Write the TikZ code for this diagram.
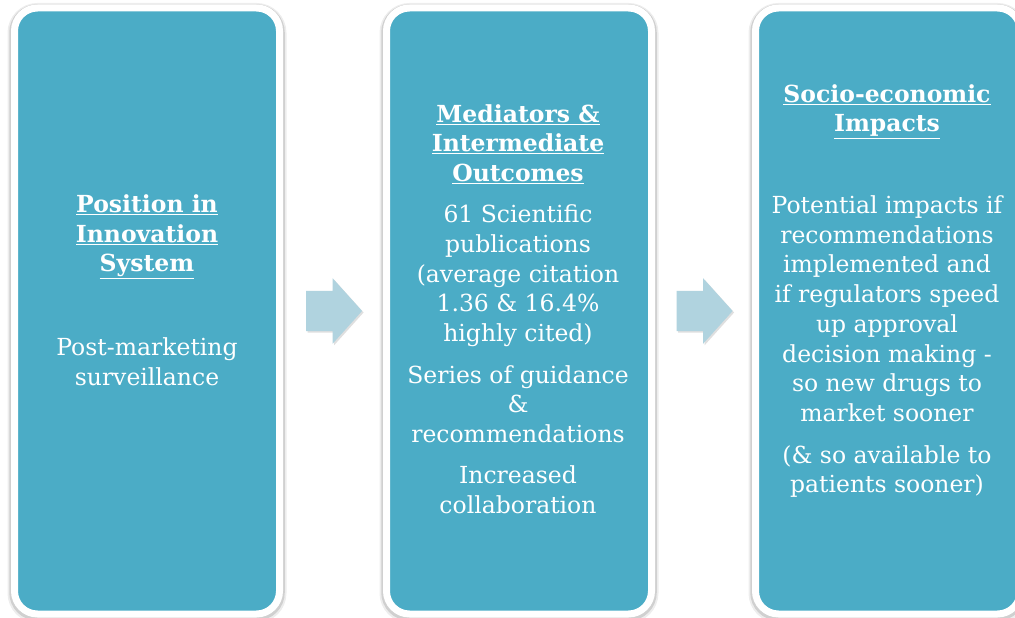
\documentclass[tikz,border=0pt]{standalone}
\usepackage{fontspec}
\setmainfont{DejaVu Serif}
\usepackage{xcolor}
\usepackage{tikz}
\usetikzlibrary{calc,positioning,shapes.arrows,shadows}
\definecolor{stagefill}{RGB}{75,172,198}
\definecolor{flowfill}{RGB}{176,211,223}
\newcommand{\hd}[1]{\textbf{\underline{#1}}}

\begin{document}
\begin{tikzpicture}[x=1pt,y=-1pt,
      stage/.style={rectangle,rounded corners=23pt,draw=white,line width=7pt,fill=stagefill,
        minimum width=265pt,minimum height=606pt,
        preaction={draw=black,draw opacity=.07,line width=14pt,transform canvas={yshift=-2pt}},
        preaction={draw=black,draw opacity=.12,line width=10.5pt,transform canvas={yshift=-1.5pt}}},
      flow/.style={single arrow,fill=flowfill,draw=none,inner xsep=0pt,inner ysep=20pt,minimum height=56pt,
        single arrow head extend=12.5pt,single arrow tip angle=96,single arrow head indent=0pt,xshift=-8pt,
        drop shadow={opacity=.25,shadow xshift=1.5pt,shadow yshift=-1.5pt}},
      txt/.style={text=white,align=center,font=\fontsize{23.5}{29.7}\selectfont}]
    \path[use as bounding box,fill=white] (0,0) rectangle (1015,618);
    \clip (0,0) rectangle (1015,618);
    % three stages
    \node[stage] (pos) at (147,311) {};
    \node[stage] (med) at (519,311) {};
    \node[stage] (soc) at (888,311) {};
    % block arrows between them
    \node[flow] (f1) at ($(pos.east)!.5!(med.west)$) {};
    \node[flow] (f2) at ($(med.east)!.5!(soc.west)$) {};
    % texts
    \node[txt] (posT) at (147,290) {\hd{Position in}\\\hd{Innovation}\\\hd{System}\\[54pt]
      Post-marketing\\surveillance};
    \node[txt] (medT) at (518,309) {\hd{Mediators \&}\\\hd{Intermediate}\\\hd{Outcomes}\\[11.5pt]
      61 Scientific\\publications\\(average citation\\1.36 \& 16.4\%\\highly cited)\\[12pt]
      Series of guidance\\\&\\recommendations\\[11.5pt]
      Increased\\collaboration};
    \node[txt] (socT) at (887,291) {\hd{Socio-economic}\\\hd{Impacts}\\[52pt]
      Potential impacts if\\recommendations\\implemented and\\if regulators speed\\up approval\\
      decision making -\\so new drugs to\\market sooner\\[12pt]
      (\& so available to\\patients sooner)};
  \end{tikzpicture}
\end{document}
